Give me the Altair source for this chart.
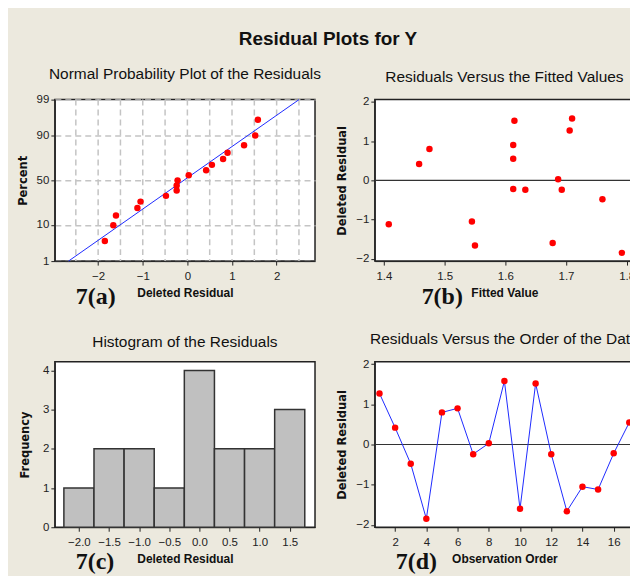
import altair as alt
import pandas as pd
import statistics

# ---------------- data ----------------
obs_order = list(range(1, 18))
residuals = [1.27, 0.42, -0.48, -1.85, 0.80, 0.90, -0.24, 0.03, 1.58, -1.60,
             1.52, -0.24, -1.66, -1.05, -1.12, -0.22, 0.55]
fitted = [1.706, 1.458, 1.760, 1.792, 1.475, 1.613, 1.633, 1.687, 1.710, 1.678,
          1.615, 1.693, 1.550, 1.545, 1.408, 1.613, 1.613]
hist_centers = [-2.0, -1.5, -1.0, -0.5, 0.0, 0.5, 1.0, 1.5]
hist_counts = [1, 2, 2, 1, 4, 2, 2, 3]
prob_ticks = [1, 10, 50, 90, 99]
npp_x_ticks = [-2, -1, 0, 1, 2]
npp_x_grid = [-2.5, -2.0, -1.5, -1.0, -0.5, 0.0, 0.5, 1.0, 1.5, 2.0, 2.5]
fit_x_ticks = [1.4, 1.5, 1.6, 1.7, 1.8]
order_ticks = [2, 4, 6, 8, 10, 12, 14, 16]
resid_ticks = [-2, -1, 0, 1, 2]
freq_ticks = [0, 1, 2, 3, 4]
panel_labels = ["7(a)", "7(b)", "7(c)", "7(d)"]

n = len(residuals)
df = pd.DataFrame({"order": obs_order, "resid": residuals, "fitted": fitted})
hist_df = pd.DataFrame({"center": hist_centers, "count": hist_counts})
grid_df = pd.DataFrame({"resid": npp_x_grid})

nd = statistics.NormalDist()
z_ticks = [nd.inv_cdf(p / 100) for p in prob_ticks]
mu = statistics.mean(residuals)
sd = statistics.stdev(residuals)
line_df = pd.DataFrame({
    "z": [z_ticks[0], z_ticks[-1]],
    "resid": [mu + sd * z_ticks[0], mu + sd * z_ticks[-1]],
})

SANS = "Liberation Sans, Arial"
BOLDY = "DejaVu Sans"
SERIF = "Liberation Serif"
RED = "#ff0000"
BLUE = "#1f2bff"
GRID = "#c4c4c4"

W1, W2, H1, H2 = 261, 260, 162, 166


def ptitle(text):
    return alt.TitleParams(text, font=SANS, fontSize=15.5, fontWeight="normal",
                           color="#111", anchor="middle", offset=11)


def label(text, dx, dy):
    return alt.Chart(pd.DataFrame({"t": [text]})).mark_text(
        font=SERIF, fontSize=24, fontWeight="bold", align="left",
        baseline="alphabetic", color="#111"
    ).encode(text="t:N", x=alt.value(dx), y=alt.value(dy))


# ---------------- (a) normal probability plot ----------------
xa = alt.X("resid:Q", scale=alt.Scale(domain=[-2.97, 2.86], nice=False, zero=False),
           axis=alt.Axis(values=npp_x_ticks, format="d", title="Deleted Residual",
                         titlePadding=6))
ya = alt.Y("z:Q", scale=alt.Scale(domain=[z_ticks[0], z_ticks[-1]], nice=False, zero=False),
           axis=alt.Axis(values=z_ticks, title="Percent", grid=True,
                         gridDash=[6, 4], gridColor=GRID, gridWidth=1.5,
                         labelExpr="format(round(cumulativeNormal(datum.value) * 100), 'd')",
                         titlePadding=8))
vgrid = alt.Chart(grid_df).mark_rule(color=GRID, strokeWidth=1.5, strokeDash=[6, 4]).encode(x=xa)
pts_a = alt.Chart(df).transform_window(
    rank="row_number()", sort=[alt.SortField("resid")]
).transform_calculate(
    z=f"quantileNormal((datum.rank - 0.3) / ({n} + 0.4))"
).mark_circle(color=RED, size=42, opacity=1).encode(x=xa, y=ya)
line_a = alt.Chart(line_df).mark_line(color=BLUE, strokeWidth=1).encode(x=xa, y=ya)
panel_a = alt.layer(vgrid, line_a, pts_a, label(panel_labels[0], 21, H1 + 43)).properties(
    width=W1, height=H1, title=ptitle("Normal Probability Plot of the Residuals"))

# ---------------- (b) residuals vs fitted ----------------
yres = alt.Scale(domain=[-2.06, 2.06], nice=False, zero=False)
xb = alt.X("fitted:Q", scale=alt.Scale(domain=[1.385, 1.812], nice=False, zero=False),
           axis=alt.Axis(values=fit_x_ticks, format=".1f", title="Fitted Value", titlePadding=6))
yb = alt.Y("resid:Q", scale=yres,
           axis=alt.Axis(values=resid_ticks, format="d", title="Deleted Residual", titlePadding=8))
zero_rule = alt.Chart(pd.DataFrame({"y": [0]})).mark_rule(color="#333", strokeWidth=1.2).encode(
    y=alt.Y("y:Q", scale=yres))
pts_b = alt.Chart(df).mark_circle(color=RED, size=42, opacity=1).encode(x=xb, y=yb)
panel_b = alt.layer(zero_rule, pts_b, label(panel_labels[1], 47, H1 + 43)).properties(
    width=W2, height=H1, title=ptitle("Residuals Versus the Fitted Values"))

# ---------------- (c) histogram ----------------
bars = alt.Chart(hist_df).transform_calculate(
    lo="datum.center - 0.25", hi="datum.center + 0.25"
).mark_bar(color="#c0c0c0", stroke="#333", strokeWidth=1.5).encode(
    x=alt.X("lo:Q", scale=alt.Scale(domain=[-2.4, 1.92], nice=False, zero=False),
            axis=alt.Axis(values=hist_centers, format=".1f", title="Deleted Residual", titlePadding=6)),
    x2="hi:Q",
    y=alt.Y("count:Q", scale=alt.Scale(domain=[0, 4.22], nice=False),
            axis=alt.Axis(values=freq_ticks, format="d", title="Frequency", titlePadding=12)),
    y2=alt.datum(0),
)
panel_c = alt.layer(bars, label(panel_labels[2], 21, H2 + 42)).properties(
    width=W1, height=H2, title=ptitle("Histogram of the Residuals"))

# ---------------- (d) residuals vs order ----------------
xd = alt.X("order:Q", scale=alt.Scale(domain=[0.7, 17.3], nice=False, zero=False),
           axis=alt.Axis(values=order_ticks, format="d", title="Observation Order", titlePadding=6))
yd = alt.Y("resid:Q", scale=yres,
           axis=alt.Axis(values=resid_ticks, format="d", title="Deleted Residual", titlePadding=8))
line_d = alt.Chart(df).mark_line(color=BLUE, strokeWidth=1).encode(x=xd, y=yd)
pts_d = alt.Chart(df).mark_circle(color=RED, size=42, opacity=1).encode(x=xd, y=yd)
panel_d = alt.layer(zero_rule, line_d, pts_d, label(panel_labels[3], 21, H2 + 42)).properties(
    width=W2, height=H2, title=ptitle("Residuals Versus the Order of the Data"))

chart = alt.concat(panel_a, panel_b, panel_c, panel_d, columns=2,
                   spacing={"row": 101, "column": 60}, bounds="flush").properties(
    title=alt.TitleParams("Residual Plots for Y", font=SANS, fontSize=19, fontWeight="bold",
                          color="#111", anchor="middle", offset=18),
    padding={"left": 8, "top": 20, "right": -10, "bottom": 0},
    background="#ece9de",
).configure_view(
    fill="white", stroke="#222", strokeWidth=1.5
).configure_axis(
    domainColor="#222", domainWidth=1, tickColor="#222", tickSize=4, labelPadding=2,
    labelFont=SANS, labelFontSize=11.5, labelColor="#222", labelFlush=False,
    labelOverlap=False, grid=False, titleColor="#111", titleFontWeight="bold",
).configure_axisX(
    titleFont=SANS, titleFontSize=12, labelPadding=5
).configure_axisY(
    titleFont=BOLDY, titleFontSize=11.5
)

chart.save("out.html", embed_options={"renderer": "svg", "actions": False})
